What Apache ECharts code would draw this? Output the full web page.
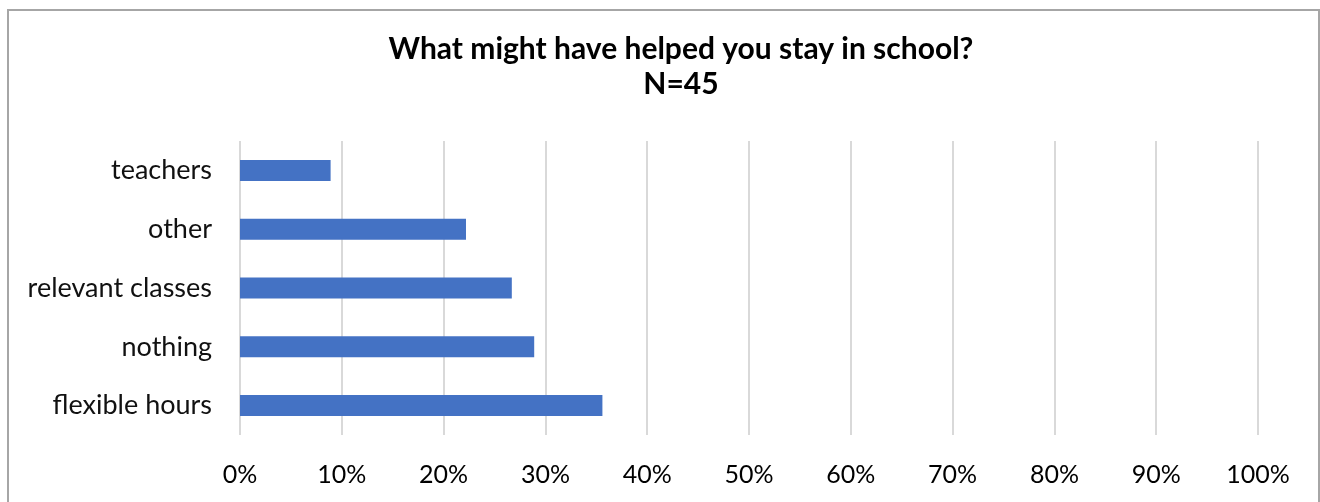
<!DOCTYPE html>
<html>
<head>
<meta charset="utf-8">
<script src="https://cdn.jsdelivr.net/npm/echarts@6/dist/echarts.min.js"></script>
<style>
  html, body { margin: 0; padding: 0; background: #fff; }
  #chart { width: 1320px; height: 502px; }
</style>
</head>
<body>
<div id="chart"></div>
<script>
// Survey answers, listed bottom to top as drawn on the category axis
const categories = ['flexible hours', 'nothing', 'relevant classes', 'other', 'teachers'];
// Share of respondents (%) choosing each answer
const shares = [35.6, 28.9, 26.7, 22.2, 8.9];
const titleLines = ['What might have helped you stay in school?', 'N=45'];

const chart = echarts.init(document.getElementById('chart'));
const font = 'Lato, "Liberation Sans", sans-serif';

chart.setOption({
  animation: false,
  backgroundColor: '#fff',
  graphic: [{
    type: 'rect',
    shape: { x: 8, y: 10, width: 1311, height: 520 },
    style: { fill: 'none', stroke: '#a6a6a6', lineWidth: 2 },
    z: 0
  }],
  title: {
    text: titleLines.join('\n'),
    left: 676,
    textAlign: 'center',
    top: 27,
    textStyle: {
      fontFamily: font,
      fontSize: 30,
      fontWeight: 'bold',
      color: '#000',
      lineHeight: 35
    }
  },
  grid: { left: 240, right: 62, top: 141, bottom: 67, containLabel: false },
  xAxis: {
    type: 'value',
    min: 0,
    max: 100,
    interval: 10,
    axisLine: { show: false },
    axisTick: { show: false },
    axisLabel: {
      formatter: '{value}%',
      margin: 27,
      fontFamily: font,
      fontSize: 25,
      color: '#000'
    },
    splitLine: { show: true, lineStyle: { color: '#d9d9d9', width: 2 } }
  },
  yAxis: {
    type: 'category',
    data: categories,
    axisLine: { show: false },
    axisTick: { show: false },
    axisLabel: {
      margin: 28,
      fontFamily: font,
      fontSize: 27,
      color: '#111'
    },
    splitLine: { show: false }
  },
  series: [{
    type: 'bar',
    data: shares,
    barWidth: 21,
    itemStyle: { color: '#4472c4' }
  }]
});
</script>
</body>
</html>
